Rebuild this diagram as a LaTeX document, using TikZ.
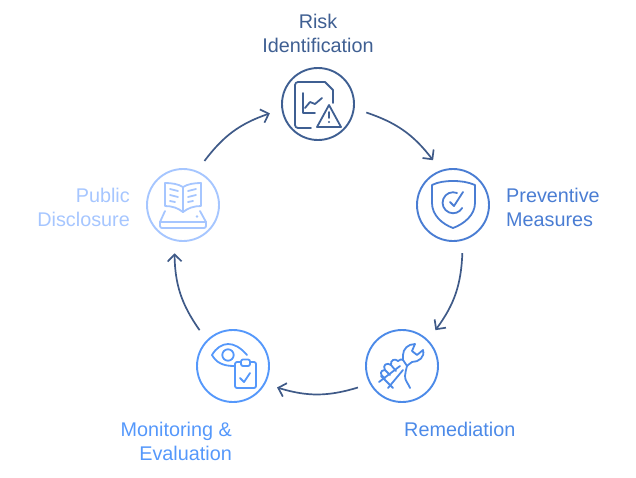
\documentclass[tikz,border=0pt]{standalone}
\usepackage{fontspec}
\setmainfont{Liberation Sans}
\usetikzlibrary{arrows.meta}
\definecolor{riskcol}{HTML}{3F5F92}
\definecolor{prevcol}{HTML}{4A7DD3}
\definecolor{remcol}{HTML}{4C8AE8}
\definecolor{moncol}{HTML}{5598FB}
\definecolor{pubcol}{HTML}{A6C6FF}
\definecolor{arrowcol}{HTML}{3F5A88}
\tikzset{
  stage/.style={circle, draw=#1, line width=1.9pt, minimum size=72pt, inner sep=0pt, outer sep=13pt},
  icon/.style={draw=#1, line width=1.8pt, line cap=round, line join=round},
  caption/.style={text=#1, font=\fontsize{19.8}{24}\selectfont, inner sep=0pt},
  link/.style={arrowcol, line width=1.7pt, -{Straight Barb[length=7pt,width=14pt]}, bend left=17},
}
\begin{document}
\begin{tikzpicture}[x=1pt, y=-1pt]
  \useasboundingbox (0,0) rectangle (636,477);
  \node [stage=riskcol] (risk) at (318,104) {};
  \node [stage=prevcol] (prev) at (453,205) {};
  \node [stage=remcol] (rem) at (402,366) {};
  \node [stage=moncol] (mon) at (233,366) {};
  \node [stage=pubcol] (pub) at (183,205) {};

  \node [caption=riskcol, align=center] (risklabel) at (318,33) {Risk\\Identification};
  \node [caption=prevcol, align=left, anchor=west] (prevlabel) at (506,207) {Preventive\\Measures};
  \node [caption=remcol, anchor=west] (remlabel) at (404,429) {Remediation};
  \node [caption=moncol, align=right, anchor=east] (monlabel) at (232,441) {Monitoring \&\\Evaluation};
  \node [caption=pubcol, align=right, anchor=east] (publabel) at (130,207) {Public\\Disclosure};

  \draw [link] (risk.-10) to (prev.114);
  \draw [link] (prev.-79) to (rem.47);
  \draw [link] (rem.206) to (mon.-26);
  \draw [link] (mon.133) to (pub.-100);
  \draw [link] (pub.64) to (risk.191);

  % risk icon
  \draw [icon=riskcol] (333,103) -- (333,90) -- (325,82) -- (298,82) to[out=180,in=90] (295,85) -- (295,125) to[out=-90,in=180] (298,128) -- (311,128);
  \draw [icon=riskcol] (303,93) -- (303,113) -- (315,113);
  \draw [icon=riskcol] (305,108) -- (310,102) -- (315,104) -- (322,98);
  \draw [icon=riskcol] (329,105) -- (341,127) -- (317,127) -- cycle;
  \draw [icon=riskcol] (329,112) -- (329,118);
  \fill [riskcol] (329,122) circle (1.1pt);

  % shield icon
  \draw [icon=prevcol] (453,181) .. controls (445,181) and (438,182) .. (432,185) -- (432,203) .. controls (432,215) and (442,224) .. (453,228) .. controls (464,224) and (475,215) .. (475,203) -- (475,185) .. controls (468,182) and (461,181) .. (453,181) -- cycle;
  \draw [icon=prevcol] (457,193) arc[start angle=-68, end angle=-330, radius=10.5];
  \draw [icon=prevcol] (450,202) -- (454,206) -- (463,192);

  % wrench icon
  \draw [icon=remcol] (403,360) -- (403,355) .. controls (403,349) and (408,344) .. (415,344) -- (412,351) -- (417,355) -- (423,350) .. controls (425,357) and (419,362) .. (412,362) -- (408,365) -- (407,366) -- cycle;
  \draw [icon=remcol] (379,382) -- (400,366);
  \draw [icon=remcol] (388,388) -- (403,370);
  \draw [icon=remcol] (381,376) -- (393,388);
  \draw [icon=remcol] (385,378) .. controls (379,375) and (380,370) .. (385,370) .. controls (382,365) and (387,362) .. (391,365) .. controls (390,360) and (395,358) .. (398,361) .. controls (400,359) and (402,359) .. (403,360);
  \draw [icon=remcol] (385,370) -- (390,375) (391,365) -- (396,371);
  \draw [icon=remcol] (407,366) to[out=-100,in=90] (405,376) to[out=-90,in=110] (410,388);

  % eye and clipboard icon
  \draw [icon=moncol] (247,355) .. controls (240,347) and (234,344) .. (228,344) .. controls (222,344) and (216,348) .. (212,355) .. controls (216,362) and (222,366) .. (234,366);
  \draw [icon=moncol] (228,355) circle (5.7);
  \draw [icon=moncol, rounded corners=2pt] (241,362) -- (235,362) -- (235,388) -- (256,388) -- (256,362) -- (250,362);
  \draw [icon=moncol, rounded corners=2pt] (241,359.5) rectangle (250,366);
  \draw [icon=moncol] (240,378) -- (244,382) -- (250,373);

  % book icon
  \draw [icon=pubcol] (183,187) .. controls (178,184) and (172,183) .. (165,183) -- (165,206) .. controls (172,206) and (178,208) .. (183,212) .. controls (188,208) and (194,206) .. (201,206) -- (201,183) .. controls (194,183) and (188,184) .. (183,187) -- cycle;
  \draw [icon=pubcol] (183,187) -- (183,212);
  \draw [icon=pubcol] (170,189) -- (178,191) (170,195) -- (178,197) (170,201) -- (175,202);
  \draw [icon=pubcol] (188,191) -- (196,189) (188,197) -- (196,195) (188,202) -- (193,201);
  \draw [icon=pubcol] (165,211) -- (160,222) -- (206,222) -- (200,211);
  \draw [icon=pubcol, rounded corners=2pt] (160,222) -- (160,228) -- (206,228) -- (206,222);
  \fill [pubcol] (197,216.5) circle (1.4pt);
\end{tikzpicture}
\end{document}
